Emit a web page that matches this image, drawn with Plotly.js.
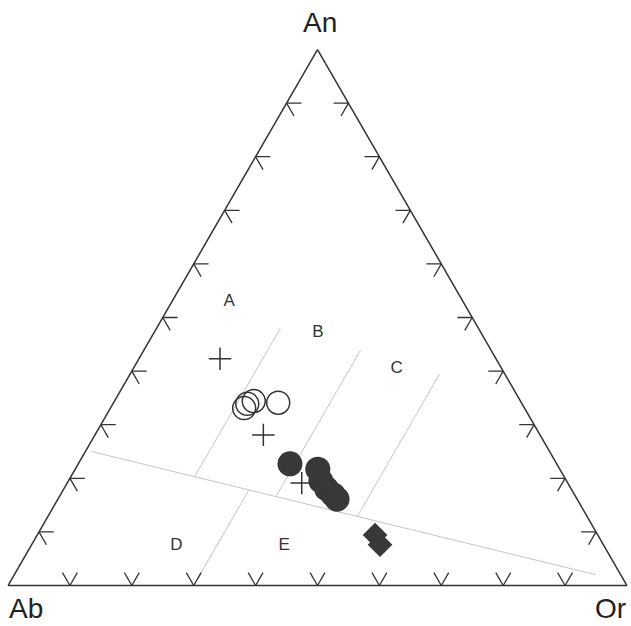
<!DOCTYPE html>
<html>
<head>
<meta charset="utf-8">
<script src="https://cdn.plot.ly/plotly-3.0.1.min.js"></script>
<style>
  html, body { margin: 0; padding: 0; background: #fff; }
  #chart { width: 631px; height: 626px; }
</style>
</head>
<body>
<div id="chart"></div>
<script>
// ternary values as fractions: An (top), Or (bottom right), Ab is the rest

//DATA
let openAn = [0.331, 0.339, 0.344, 0.341];
let openOr = [0.216, 0.217, 0.225, 0.266];

let filledAn = [0.227, 0.217, 0.195, 0.180, 0.169, 0.161];
let filledOr = [0.342, 0.392, 0.408, 0.425, 0.441, 0.451];

let crossAn = [0.423, 0.281, 0.191];
let crossOr = [0.131, 0.272, 0.379];

let diamondAn = [0.094, 0.076];
let diamondOr = [0.546, 0.563];

// field boundaries, each as [start, end]
let lineAn = [[0.25, 0.02], [0.204, 0.48], [0.166, 0.44], [0.129, 0.395], [0.178, 0.0]];
let lineOr = [[0.01, 0.94], [0.2, 0.2], [0.35, 0.35], [0.5, 0.5], [0.3, 0.3]];

let fieldNames = ["A", "B", "C", "D", "E"];
let fieldAn = [0.529, 0.471, 0.404, 0.074, 0.074];
let fieldOr = [0.093, 0.265, 0.426, 0.235, 0.409];

let tickVals = [0.1, 0.2, 0.3, 0.4, 0.5, 0.6, 0.7, 0.8, 0.9];

//TICKS (little chevrons on every side)
let armLen = 0.024;
let tA = [], tB = [], tC = [];
function seg(p, q) {
  tA.push(p[0], q[0], null);
  tB.push(p[1], q[1], null);
  tC.push(p[2], q[2], null);
}
tickVals.forEach((v) => {
  let d = armLen;
  // bottom edge (Ab - Or)
  let p = [0, 1 - v, v];
  seg(p, [d, 1 - v, v - d]);
  seg(p, [d, 1 - v - d, v]);
  // left edge (Ab - An)
  p = [v, 1 - v, 0];
  seg(p, [v, 1 - v - d, d]);
  seg(p, [v - d, 1 - v, d]);
  // right edge (An - Or)
  p = [v, 0, 1 - v];
  seg(p, [v, d, 1 - v - d]);
  seg(p, [v - d, d, 1 - v]);
});

let tickTrace = {
  type: "scatterternary",
  mode: "lines",
  a: tA, b: tB, c: tC,
  line: { color: "#333", width: 1.3 },
  hoverinfo: "skip",
};

//FIELD LINES
let lA = [], lC = [];
lineAn.forEach((l, i) => {
  lA.push(l[0], l[1], null);
  lC.push(lineOr[i][0], lineOr[i][1], null);
});
let lB = lA.map((a, i) => (a === null ? null : 1 - a - lC[i]));

let fieldTrace = {
  type: "scatterternary",
  mode: "lines",
  a: lA, b: lB, c: lC,
  line: { color: "#c4c4c4", width: 1 },
  hoverinfo: "skip",
};

function rest(an, or) {
  return an.map((a, i) => 1 - a - or[i]);
}

let labelTrace = {
  type: "scatterternary",
  mode: "text",
  a: fieldAn, b: rest(fieldAn, fieldOr), c: fieldOr,
  text: fieldNames,
  textfont: { family: "Liberation Sans, Arial, sans-serif", size: 17, color: "#333" },
};

let openTrace = {
  type: "scatterternary",
  mode: "markers",
  a: openAn, b: rest(openAn, openOr), c: openOr,
  marker: { symbol: "circle-open", size: 23, color: "#333", line: { width: 1.5 } },
};

let filledTrace = {
  type: "scatterternary",
  mode: "markers",
  a: filledAn, b: rest(filledAn, filledOr), c: filledOr,
  marker: { symbol: "circle", size: 25, color: "#383838", line: { width: 0 } },
};

let crossTrace = {
  type: "scatterternary",
  mode: "markers",
  a: crossAn, b: rest(crossAn, crossOr), c: crossOr,
  marker: { symbol: "cross-thin-open", size: 16, color: "#333", line: { width: 1.5, color: "#333" } },
};

let diamondTrace = {
  type: "scatterternary",
  mode: "markers",
  a: diamondAn, b: rest(diamondAn, diamondOr), c: diamondOr,
  marker: { symbol: "diamond", size: 19, color: "#383838", line: { width: 0 } },
};

let data = [fieldTrace, tickTrace, labelTrace, openTrace, filledTrace, crossTrace, diamondTrace];

//LAYOUT
let axisStyle = {
  showgrid: false,
  showticklabels: false,
  ticks: "",
  linecolor: "#333",
  linewidth: 1.5,
  title: { text: "" },
  min: 0,
};

let titleFont = { family: "Liberation Sans, Arial, sans-serif", size: 28, color: "#222" };

let layout = {
  width: 631,
  height: 626,
  margin: { l: 0, r: 0, t: 0, b: 0 },
  showlegend: false,
  paper_bgcolor: "#fff",
  ternary: {
    sum: 1,
    bgcolor: "#fff",
    domain: { x: [8 / 631, 627 / 631], y: [40.5 / 626, 576.5 / 626] },
    aaxis: axisStyle,
    baxis: axisStyle,
    caxis: axisStyle,
  },
  annotations: [
    { text: "An", x: 320 / 631, y: 1 - 23 / 626 },
    { text: "Ab", x: 25.5 / 631, y: 1 - 608 / 626 },
    { text: "Or", x: 610 / 631, y: 1 - 608 / 626 },
  ].map((a) => Object.assign(a, {
    xref: "paper", yref: "paper", showarrow: false,
    xanchor: "center", yanchor: "middle", font: titleFont,
  })),
};

let config = { displayModeBar: false, staticPlot: true };

Plotly.newPlot("chart", data, layout, config);
</script>
</body>
</html>
